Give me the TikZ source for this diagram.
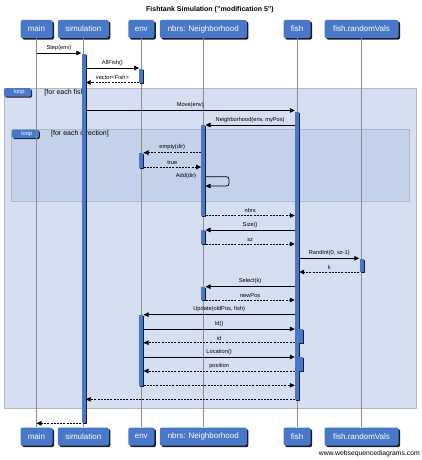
\documentclass[tikz,border=0pt]{standalone}
\usepackage{fontspec}
\setmainfont{Liberation Sans}
\usetikzlibrary{arrows.meta,shadows}
\definecolor{boxblue}{RGB}{74,120,200}
\definecolor{outerloop}{RGB}{214,223,241}
\definecolor{innerloop}{RGB}{196,209,234}
\definecolor{framegray}{RGB}{176,184,200}
\definecolor{lifegray}{RGB}{140,140,140}
\definecolor{shadowc}{RGB}{25,30,45}
\tikzset{
  actor/.style={draw=none, fill=boxblue, rounded corners=2pt, minimum height=18pt, inner sep=0pt,
    text=white, font=\fontsize{8}{9}\selectfont,
    drop shadow={shadow xshift=1.6pt, shadow yshift=-1.6pt, fill=shadowc, opacity=1}},
  act/.style={fill=boxblue, draw=none, minimum width=4pt, inner sep=0pt,
    drop shadow={shadow xshift=1pt, shadow yshift=-1pt, fill=shadowc, opacity=1}},
  msg/.style={-{Triangle[length=5pt,width=4.5pt]}, line width=0.7pt},
  ret/.style={msg, dash pattern=on 2pt off 1.2pt},
  lbl/.style={font=\fontsize{5.7}{6.5}\selectfont, inner sep=0pt, above=2.2pt},
  life/.style={draw=lifegray, line width=0.6pt},
  looptag/.style={fill=boxblue, draw=none, rounded corners=1.5pt, minimum width=27pt, minimum height=8.5pt,
    inner sep=0pt, text=white, font=\fontsize{5.8}{6.5}\selectfont, anchor=north west,
    drop shadow={shadow xshift=1pt, shadow yshift=-1pt, fill=shadowc, opacity=1}},
  guard/.style={font=\fontsize{7}{8}\selectfont, inner sep=0pt},
}
\begin{document}
\begin{tikzpicture}[x=1pt,y=-1pt]
\useasboundingbox[fill=white] (0,0) rectangle (421,460);
% title
\node[font=\bfseries\fontsize{7}{8}\selectfont] (title) at (210,10) {Fishtank Simulation ("modification 5")};
% loop frames
\draw[fill=outerloop, draw=framegray, line width=0.8pt] (4,88) rectangle (416,408);
\node[looptag] (tag1) at (4,88) {\hspace*{3pt}loop\hfill};
\node[guard] (g1) at (65.5,92.5) {[for each fish]};
\draw[fill=innerloop, draw=framegray, line width=0.8pt] (11.7,129.3) rectangle (409,201.7);
\node[looptag] (tag2) at (11.7,129.3) {\hspace*{3pt}loop\hfill};
\node[guard] (g2) at (80,133.8) {[for each direction]};
% actors top
\node[actor, minimum width=32pt] (main) at (36.5,29) {main};
\node[actor, minimum width=51pt] (sim) at (83.3,29) {simulation};
\node[actor, minimum width=26pt] (env) at (141.3,29) {env};
\node[actor, minimum width=87pt] (nbrs) at (203.3,29) {nbrs: Neighborhood};
\node[actor, minimum width=27pt] (fish) at (297,29) {fish};
\node[actor, minimum width=74pt] (rv) at (361.5,29) {fish.randomVals};
% actors bottom
\node[actor, minimum width=32pt] (mainB) at (36.5,436.5) {main};
\node[actor, minimum width=51pt] (simB) at (83.3,436.5) {simulation};
\node[actor, minimum width=26pt] (envB) at (141.3,436.5) {env};
\node[actor, minimum width=87pt] (nbrsB) at (203.3,436.5) {nbrs: Neighborhood};
\node[actor, minimum width=27pt] (fishB) at (297,436.5) {fish};
\node[actor, minimum width=74pt] (rvB) at (361.5,436.5) {fish.randomVals};
% lifelines
\draw[life] (main.south) -- (mainB.north);
\draw[life] (sim.south) -- (simB.north);
\draw[life] (env.south) -- (envB.north);
\draw[life] (nbrs.south) -- (nbrsB.north);
\draw[life] (fish.south) -- (fishB.north);
\draw[life] (rv.south) -- (rvB.north);
% activation bars
\node[act, minimum height=369pt] (sa) at (83.5,238.5) {};
\node[act, minimum height=14pt] (ea1) at (141.3,76) {};
\node[act, minimum height=288pt] (fa1) at (297,255.5) {};
\node[act, minimum height=90.5pt] (na1) at (203.3,170.25) {};
\node[act, minimum height=14.5pt] (ea2) at (141.3,160.25) {};
\node[act, minimum height=14pt] (na2) at (203.3,237) {};
\node[act, minimum height=13.5pt] (ra) at (361.5,265.25) {};
\node[act, minimum height=13.5pt] (na3) at (203.3,293.25) {};
\node[act, minimum height=71pt] (ea3) at (141.3,350) {};
\node[act, minimum height=14pt] (fa2) at (300.5,336) {};
\node[act, minimum height=14pt] (fa3) at (300.5,364) {};
% messages
\draw[msg] (main |- 0,53) -- (sa.west |- 0,53) node[lbl, midway] {Step(env)};
\draw[msg] (sa.east |- 0,68) -- (ea1.west |- 0,68) node[lbl, midway] {AllFish()};
\draw[ret] (ea1.west |- 0,82.5) -- (sa.east |- 0,82.5) node[lbl, midway] {vector<Fish>};
\draw[msg] (sa.east |- 0,110.5) -- (fa1.west |- 0,110.5) node[lbl, midway] {Move(env)};
\draw[msg] (fa1.west |- 0,125) -- (na1.east |- 0,125) node[lbl, midway] {Neighborhood(env, myPos)};
\draw[ret] (na1.west |- 0,152.7) -- (ea2.east |- 0,152.7) node[lbl, midway] {empty(dir)};
\draw[ret] (ea2.east |- 0,167) -- (na1.west |- 0,167) node[lbl, midway] {true};
\draw[msg, rounded corners=2.5pt] (na1.east |- 0,176.7) -- (229,176.7) -- (229,186) -- (na1.east |- 0,186);
\node[font=\fontsize{5.7}{6.5}\selectfont, inner sep=0pt] (addl) at (186,176.3) {Add(dir)};
\draw[ret] (na1.east |- 0,215.5) -- (fa1.west |- 0,215.5) node[lbl, midway] {nbrs};
\draw[msg] (fa1.west |- 0,230) -- (na2.east |- 0,230) node[lbl, midway] {Size()};
\draw[ret] (na2.east |- 0,244) -- (fa1.west |- 0,244) node[lbl, midway] {sz};
\draw[msg] (fa1.east |- 0,258.3) -- (ra.west |- 0,258.3) node[lbl, midway] {RandInt(0, sz-1)};
\draw[ret] (ra.west |- 0,272) -- (fa1.east |- 0,272) node[lbl, midway] {k};
\draw[msg] (fa1.west |- 0,286.7) -- (na3.east |- 0,286.7) node[lbl, midway] {Select(k)};
\draw[ret] (na3.east |- 0,300) -- (fa1.west |- 0,300) node[lbl, midway] {newPos};
\draw[msg] (fa1.west |- 0,314.7) -- (ea3.east |- 0,314.7) node[lbl, midway] {Update(oldPos, fish)};
\draw[msg] (ea3.east |- 0,329) -- (fa1.west |- 0,329) node[lbl, midway] {Id()};
\draw[ret] (fa1.west |- 0,342.7) -- (ea3.east |- 0,342.7) node[lbl, midway] {id};
\draw[msg] (ea3.east |- 0,357) -- (fa1.west |- 0,357) node[lbl, midway] {Location()};
\draw[ret] (fa1.west |- 0,371) -- (ea3.east |- 0,371) node[lbl, midway] {position};
\draw[ret] (ea3.east |- 0,385.3) -- (fa1.west |- 0,385.3);
\draw[ret] (fa1.west |- 0,399.3) -- (sa.east |- 0,399.3);
\draw[ret] (sa.west |- 0,423.3) -- (main |- 0,423.3);
% footer
\node[font=\fontsize{6.8}{8}\selectfont, inner sep=0pt, anchor=east] (footer) at (420,454) {www.websequencediagrams.com};
\end{tikzpicture}
\end{document}
